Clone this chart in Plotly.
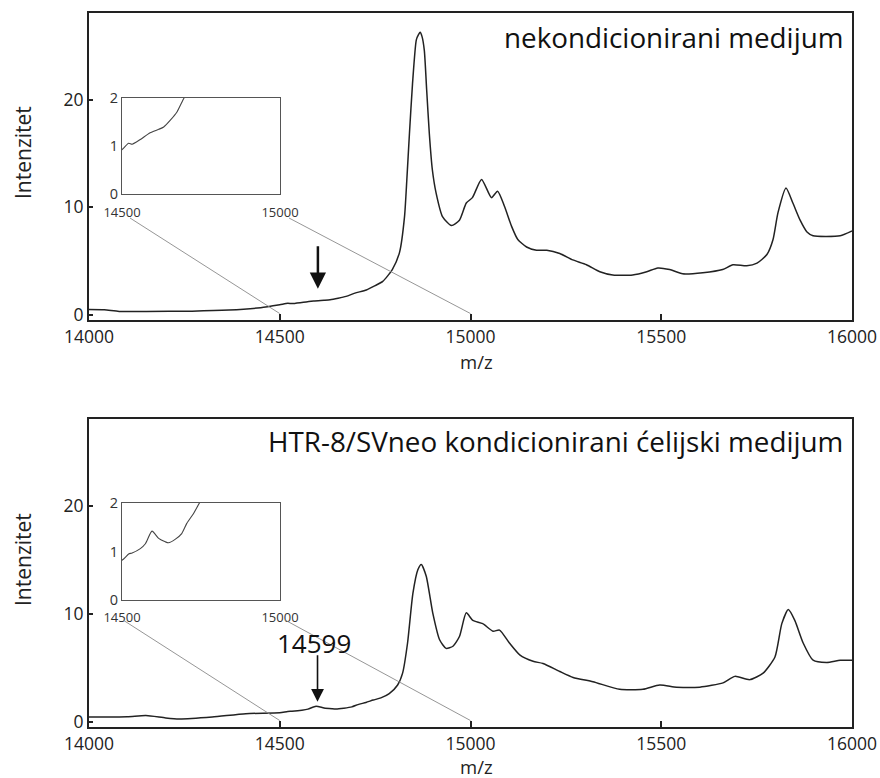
import plotly.graph_objects as go

# ---------------- data ----------------
mz_top = [14000, 14040, 14079, 14150, 14270, 14367, 14450, 14500, 14521, 14532, 14558,
          14589, 14616, 14632, 14653, 14674, 14697, 14727, 14750, 14770, 14795, 14814,
          14827, 14833, 14840, 14848, 14858, 14864, 14868, 14873, 14879, 14885, 14892,
          14900, 14910, 14927, 14950, 14971, 14989, 15005, 15029, 15055, 15071, 15089,
          15108, 15124, 15147, 15173, 15200, 15234, 15268, 15304, 15339, 15373, 15425,
          15462, 15491, 15522, 15556, 15609, 15661, 15688, 15724, 15751, 15777, 15793,
          15806, 15827, 15845, 15864, 15882, 15898, 15969, 16000]
int_top = [0.47, 0.45, 0.30, 0.30, 0.32, 0.42, 0.65, 0.92, 1.05, 1.03, 1.13,
           1.27, 1.34, 1.39, 1.53, 1.70, 2.0, 2.3, 2.7, 3.1, 4.2, 5.8,
           9.1, 12.5, 16.9, 21.5, 25.6, 26.1, 26.3, 25.9, 24.6, 21.0, 16.9,
           13.5, 11.3, 9.1, 8.3, 8.8, 10.4, 10.9, 12.6, 10.9, 11.5, 10.1,
           8.2, 7.0, 6.3, 6.0, 6.0, 5.7, 5.1, 4.65, 4.0, 3.7, 3.7,
           4.0, 4.35, 4.2, 3.8, 3.9, 4.2, 4.65, 4.55, 4.8, 5.6, 7.0,
           9.5, 11.8, 10.4, 8.8, 7.7, 7.35, 7.35, 7.8]

mz_bot = [14000, 14100, 14149, 14201, 14236, 14323, 14411, 14500, 14521, 14532, 14558,
          14574, 14595, 14616, 14637, 14647, 14668, 14689, 14705, 14726, 14745, 14765,
          14787, 14809, 14822, 14835, 14849, 14862, 14871, 14884, 14901, 14919, 14936,
          14954, 14971, 14989, 15006, 15032, 15059, 15076, 15102, 15129, 15164, 15190,
          15234, 15269, 15321, 15391, 15452, 15496, 15540, 15601, 15662, 15693, 15732,
          15767, 15798, 15816, 15833, 15850, 15872, 15898, 15934, 15969, 16000]
int_bot = [0.43, 0.45, 0.56, 0.34, 0.25, 0.43, 0.74, 0.82, 0.95, 0.97, 1.06,
           1.16, 1.42, 1.27, 1.20, 1.18, 1.25, 1.37, 1.58, 1.78, 2.0, 2.2,
           2.6, 3.4, 4.5, 7.3, 11.9, 14.1, 14.6, 13.5, 10.1, 7.6, 6.8,
           7.0, 7.9, 10.1, 9.4, 9.1, 8.4, 8.5, 7.3, 6.2, 5.6, 5.4,
           4.65, 4.1, 3.7, 3.0, 3.0, 3.4, 3.2, 3.2, 3.6, 4.2, 3.9,
           4.5, 6.0, 9.1, 10.4, 9.4, 7.3, 5.7, 5.5, 5.7, 5.7]

main_ticks = [14000, 14500, 15000, 15500, 16000]
int_ticks = [0, 10, 20]
inset_xticks = [14500, 15000]
inset_yticks = [0, 1, 2]
title_top = "nekondicionirani medijum"
title_bot = "HTR-8/SVneo kondicionirani ćelijski medijum"
marked_peak = 14599

# ---------------- layout helpers ----------------
W, H = 880, 778
FONT = "Open Sans"
INK = "#222222"

def px(x):
    return x / W

def py(y):
    return 1 - y / H

main_xdom = [px(89), px(852)]
top_ydom = [py(320), py(13)]
bot_ydom = [py(727), py(419)]
ins_xdom = [px(122), px(280)]
top_ins_ydom = [py(194), py(97.5)]
bot_ins_ydom = [py(600), py(503)]
XR = [14000, 16000]
YR = [-0.5, 28.1]

def x_to_paper(v):
    return main_xdom[0] + (v - XR[0]) / (XR[1] - XR[0]) * (main_xdom[1] - main_xdom[0])

def y_to_paper(v, dom):
    return dom[0] + (v - YR[0]) / (YR[1] - YR[0]) * (dom[1] - dom[0])

fig = go.Figure()
line = dict(color=INK, width=1.5, shape="spline", smoothing=0.6)
ins_line = dict(color="#444", width=1.1, shape="spline", smoothing=0.6)
fig.add_trace(go.Scatter(x=mz_top, y=int_top, mode="lines", line=line, xaxis="x", yaxis="y"))
fig.add_trace(go.Scatter(x=mz_bot, y=int_bot, mode="lines", line=line, xaxis="x2", yaxis="y2"))
fig.add_trace(go.Scatter(x=mz_top, y=int_top, mode="lines", line=ins_line, xaxis="x3", yaxis="y3"))
fig.add_trace(go.Scatter(x=mz_bot, y=int_bot, mode="lines", line=ins_line, xaxis="x4", yaxis="y4"))

main_x = dict(domain=main_xdom, range=XR, tickvals=main_ticks, tickformat="d",
              ticks="inside", ticklen=6, tickwidth=2, tickcolor=INK, showline=True,
              mirror=True, linewidth=2.2, linecolor=INK, showgrid=False, zeroline=False,
              automargin=False, ticklabelstandoff=0,
              tickfont=dict(family=FONT, size=17.5, color=INK))
main_y = dict(range=YR, tickvals=int_ticks, ticks="inside", ticklen=4, tickwidth=2,
              tickcolor=INK, showline=True, mirror=True, linewidth=2.2, linecolor=INK,
              showgrid=False, zeroline=False, automargin=False,
              tickfont=dict(family=FONT, size=17.5, color=INK))
ins_x = dict(domain=ins_xdom, range=[14500, 15000], tickvals=inset_xticks, tickformat="d",
             ticks="", showline=True, mirror=True, linewidth=1, linecolor="#555",
             showgrid=False, zeroline=False, automargin=False, ticklabelstandoff=6,
             tickfont=dict(family=FONT, size=13, color="#333"))
ins_y = dict(range=[0, 2], tickvals=inset_yticks, ticks="", showline=True, mirror=True,
             linewidth=1, linecolor="#555", showgrid=False, zeroline=False,
             automargin=False, tickfont=dict(family=FONT, size=14.5, color="#333"))

fig.update_layout(
    width=W, height=H, margin=dict(l=0, r=0, t=0, b=0, autoexpand=False),
    paper_bgcolor="white", plot_bgcolor="white", showlegend=False,
    xaxis=dict(main_x, anchor="y"),
    yaxis=dict(main_y, domain=top_ydom, anchor="x"),
    xaxis2=dict(main_x, anchor="y2"),
    yaxis2=dict(main_y, domain=bot_ydom, anchor="x2"),
    xaxis3=dict(ins_x, anchor="y3"),
    yaxis3=dict(ins_y, domain=top_ins_ydom, anchor="x3"),
    xaxis4=dict(ins_x, anchor="y4", ticklabelstandoff=5),
    yaxis4=dict(ins_y, domain=bot_ins_ydom, anchor="x4"),
)

# connector lines from inset to main axis
shapes = []
for (sx, sy, dom) in [(130, 218, top_ydom), (123, 620, bot_ydom)]:
    shapes.append(dict(type="line", xref="paper", yref="paper", x0=px(sx), y0=py(sy),
                       x1=x_to_paper(14500), y1=y_to_paper(0.1, dom),
                       line=dict(color="#8a8a8a", width=0.9)))
for (sx, sy, dom) in [(289, 218, top_ydom), (285, 620, bot_ydom)]:
    shapes.append(dict(type="line", xref="paper", yref="paper", x0=px(sx), y0=py(sy),
                       x1=x_to_paper(15000), y1=y_to_paper(0.1, dom),
                       line=dict(color="#8a8a8a", width=0.9)))
fig.update_layout(shapes=shapes)

ann = []
# panel titles
ann.append(dict(text=title_top, xref="paper", yref="paper", x=px(845), y=py(37),
                xanchor="right", yanchor="middle", showarrow=False,
                font=dict(family=FONT, size=27.8, color="#111")))
ann.append(dict(text=title_bot, xref="paper", yref="paper", x=px(845), y=py(441),
                xanchor="right", yanchor="middle", showarrow=False,
                font=dict(family=FONT, size=27.8, color="#111")))
# axis titles
for yc in (361, 766):
    ann.append(dict(text="m/z", xref="paper", yref="paper", x=px(477), y=py(yc),
                    xanchor="center", yanchor="middle", showarrow=False,
                    font=dict(family=FONT, size=18.5, color=INK)))
for yc in (153, 560):
    ann.append(dict(text="Intenzitet", xref="paper", yref="paper", x=px(23), y=py(yc),
                    textangle=-90, xanchor="center", yanchor="middle", showarrow=False,
                    font=dict(family=FONT, size=21, color=INK)))
# arrows
ann.append(dict(text="", xref="x", yref="y", x=14600, y=2.4, ax=0, ay=-44,
                showarrow=True, arrowhead=2, arrowsize=1.3, arrowwidth=2.5, arrowcolor="#111"))
ann.append(dict(text="", xref="x2", yref="y2", x=marked_peak, y=1.85, ax=0, ay=-48,
                showarrow=True, arrowhead=2, arrowsize=1.6, arrowwidth=1.6, arrowcolor="#111"))
ann.append(dict(text=str(marked_peak), xref="x2", yref="y2", x=marked_peak - 8, y=7.3,
                xanchor="center", yanchor="middle", showarrow=False,
                font=dict(family=FONT, size=26, color="#111")))
fig.update_layout(annotations=ann)

fig.write_html("out.html")
